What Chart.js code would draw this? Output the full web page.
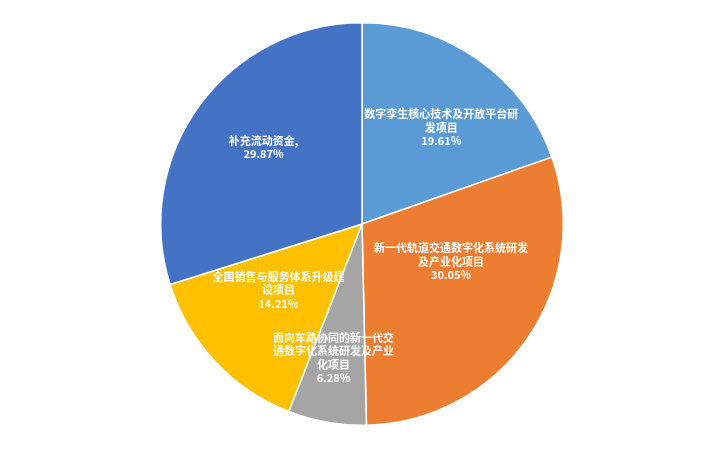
<!DOCTYPE html>
<html><head><meta charset="utf-8">
<script src="https://cdn.jsdelivr.net/npm/chart.js@4/dist/chart.umd.min.js"></script>
<style>html,body{margin:0;padding:0;background:#fff;}#wrap{width:718px;height:452px;}</style>
</head><body><div id="wrap"><canvas id="c" width="718" height="452"></canvas></div>
<script>
const categories = ["数字孪生核心技术及开放平台研发项目","新一代轨道交通数字化系统研发及产业化项目","面向车路协同的新一代交通数字化系统研发及产业化项目","全国销售与服务体系升级建设项目","补充流动资金"];
const values = [19.61, 30.05, 6.28, 14.21, 29.87];
const labelLines = [
  ["数字孪生核心技术及开放平台研","发项目","19.61%"],
  ["新一代轨道交通数字化系统研发","及产业化项目","30.05%"],
  ["面向车路协同的新一代交","通数字化系统研发及产业","化项目","6.28%"],
  ["全国销售与服务体系升级建","设项目","14.21%"],
  ["补充流动资金,","29.87%"]
];
const colors = ["#5B9BD5","#ED7D31","#A5A5A5","#FFC000","#4472C4"];
// label anchor: [fraction of radius, angle offset in degrees from slice middle]
const labelAnchor = [[0.62,4.2],[0.48,-11.8],[0.68,2],[0.53,4.7],[0.62,1.7]];

const labelPlugin = {
  id:'sliceLabels',
  afterDatasetsDraw(chart){
    const ctx = chart.ctx;
    const meta = chart.getDatasetMeta(0);
    ctx.save();
    ctx.fillStyle = '#fff';
    ctx.font = 'bold 11px "Noto Sans CJK SC", "Microsoft YaHei", sans-serif';
    ctx.textAlign = 'center';
    ctx.textBaseline = 'middle';
    meta.data.forEach((arc, i) => {
      const p = arc.getProps(['x','y','startAngle','endAngle','outerRadius'], true);
      const mid = (p.startAngle + p.endAngle)/2 + labelAnchor[i][1]*Math.PI/180;
      const r = p.outerRadius * labelAnchor[i][0];
      const cx = p.x + Math.cos(mid)*r;
      const cy = p.y + Math.sin(mid)*r;
      const lines = labelLines[i];
      const lh = 13.5;
      const y0 = cy - (lines.length-1)*lh/2;
      lines.forEach((t, k) => ctx.fillText(t, cx, y0 + k*lh));
    });
    ctx.restore();
  }
};

new Chart(document.getElementById('c'), {
  type: 'pie',
  data: {
    labels: categories,
    datasets: [{ data: values, backgroundColor: colors, borderColor: '#fff', borderWidth: 1.5 }]
  },
  options: {
    responsive: false,
    animation: false,
    layout: { padding: { top: 22, bottom: 26, left: 6, right: 0 } },
    plugins: { legend: { display: false }, tooltip: { enabled: false } }
  },
  plugins: [labelPlugin]
});
</script></body></html>
